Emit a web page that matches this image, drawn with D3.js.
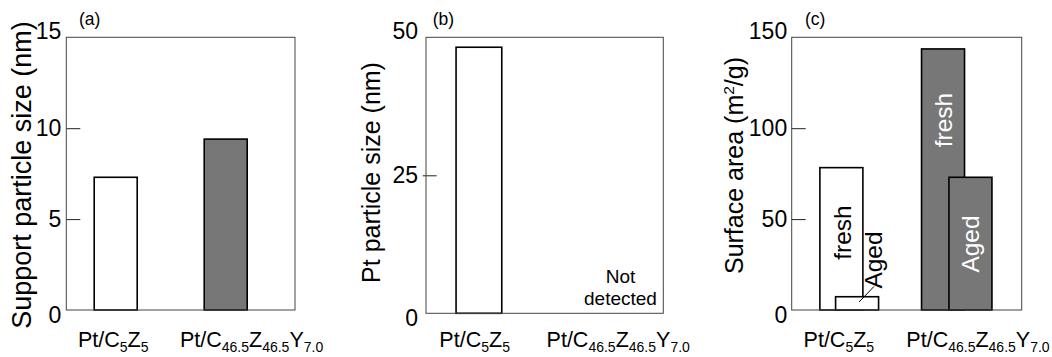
<!DOCTYPE html>
<html><head><meta charset="utf-8">
<script src="https://cdn.jsdelivr.net/npm/d3@7"></script>
<style>body{margin:0;background:#fff;} svg{display:block;}</style>
</head><body>
<script>
// ---------- data ----------
const categories = ["Pt/C5Z5", "Pt/C46.5Z46.5Y7.0"];
const categoryLabelParts = [
  [["Pt/C", 0], ["5", 1], ["Z", 0], ["5", 1]],
  [["Pt/C", 0], ["46.5", 1], ["Z", 0], ["46.5", 1], ["Y", 0], ["7.0", 1]]
];
const supportParticleSize = [7.3, 9.4];          // nm, panel (a)
const ptParticleSize = [48.2, null];              // nm, panel (b); null = not detected
const surfaceFresh = [78.3, 143.6];               // m2/g, panel (c)
const surfaceAged = [7.3, 73.0];                  // m2/g, panel (c)
const yTicksA = [0, 5, 10, 15];
const yTicksB = [0, 25, 50];
const yTicksC = [0, 50, 100, 150];
const panelLetters = ["(a)", "(b)", "(c)"];
const yTitles = ["Support particle size (nm)", "Pt particle size (nm)", "Surface area (m2/g)"];

// ---------- style ----------
const FONT = "'Liberation Sans', Arial, Helvetica, sans-serif";
const fills = ["#ffffff", "#777777"];
const svg = d3.select("body").append("svg").attr("width", 1052).attr("height", 357)
  .style("font-family", FONT);

function makePanel(cfg) {
  const [x0, y0, x1, y1] = cfg.box;
  const w = x1 - x0;
  const g = svg.append("g");
  const y = d3.scaleLinear().domain([0, d3.max(cfg.ticks)]).range([y1, y0]);
  const xBar = d3.scalePoint().domain(categories).range([x0 + cfg.barFrac[0] * w, x0 + cfg.barFrac[1] * w]);
  const xLab = d3.scalePoint().domain(categories).range([x0 + 0.205 * w, x0 + 0.81 * w]);

  // inner ticks
  const inner = cfg.ticks.slice(1, -1);
  const ax = g.append("g").attr("transform", `translate(${x0 + cfg.tickShift},0)`)
    .call(d3.axisLeft(y).tickValues(inner).tickSize(-14).tickFormat(""));
  ax.select(".domain").remove();
  ax.selectAll("line").attr("stroke", "#222").attr("stroke-width", 1);

  // tick labels
  const maxV = d3.max(cfg.ticks);
  g.selectAll(".tl").data(cfg.ticks).join("text")
    .attr("x", x0 - cfg.labelGap)
    .attr("y", d => y(d) + (d === 0 ? 5 : d === maxV ? -6 : 0))
    .attr("text-anchor", "end").attr("dominant-baseline", "central")
    .attr("font-size", 23).attr("fill", "#000").text(d => d);

  // bars
  cfg.drawBars(g, xBar, y, y1);

  // frame
  g.append("rect").attr("x", x0).attr("y", y0).attr("width", w).attr("height", y1 - y0)
    .attr("fill", "none").attr("stroke", "#444").attr("stroke-width", 1);

  // x labels
  categories.forEach((c, i) => {
    const t = g.append("text").attr("x", xLab(c)).attr("y", 347)
      .attr("text-anchor", "middle").attr("font-size", 21.5).attr("fill", "#000");
    let shifted = false;
    categoryLabelParts[i].forEach(([s, sub]) => {
      const ts = t.append("tspan").text(s);
      if (sub && !shifted) { ts.attr("font-size", 14).attr("dy", 5); shifted = true; }
      else if (sub) { ts.attr("font-size", 14); }
      else if (!sub && shifted) { ts.attr("dy", -5); shifted = false; }
    });
  });

  // panel letter
  g.append("text").attr("x", cfg.letterX).attr("y", 25).attr("font-size", 17.5)
    .attr("fill", "#000").text(cfg.letter);

  // y title
  const tt = g.append("text")
    .attr("transform", `translate(${cfg.titleX},${cfg.titleY}) rotate(-90)`)
    .attr("text-anchor", "middle").attr("font-size", cfg.titleSize).attr("fill", "#000");
  if (cfg.title.includes("m2")) {
    const [pre, post] = cfg.title.split("m2");
    tt.append("tspan").text(pre + "m");
    tt.append("tspan").attr("font-size", cfg.titleSize * 0.62).attr("dy", -9).text("2");
    tt.append("tspan").attr("dy", 9).text(post);
  } else tt.text(cfg.title);
  return { y, xBar };
}

// ----- panel (a) -----
makePanel({
  box: [66.3, 37.3, 295, 310], ticks: yTicksA, barFrac: [0.216, 0.697],
  tickShift: 0, labelGap: 5, letter: panelLetters[0], letterX: 79,
  title: yTitles[0], titleX: 30.5, titleY: 175, titleSize: 27,
  drawBars(g, x, y, yb) {
    const bw = 43;
    g.selectAll(".bar").data(supportParticleSize).join("rect")
      .attr("x", (d, i) => x(categories[i]) - bw / 2).attr("width", bw)
      .attr("y", d => y(d)).attr("height", d => yb - y(d))
      .attr("fill", (d, i) => fills[i]).attr("stroke", "#000").attr("stroke-width", 1.6);
  }
});

// ----- panel (b) -----
makePanel({
  box: [426, 37.3, 663.3, 313.3], ticks: yTicksB, barFrac: [0.223, 0.7],
  tickShift: -3.3, labelGap: 8, letter: panelLetters[1], letterX: 432.7,
  title: yTitles[1], titleX: 380, titleY: 172.5, titleSize: 25,
  drawBars(g, x, y, yb) {
    const bw = 45.7;
    g.selectAll(".bar").data(ptParticleSize.filter(d => d != null)).join("rect")
      .attr("x", (d, i) => x(categories[i]) - bw / 2).attr("width", bw)
      .attr("y", d => y(d)).attr("height", d => yb - y(d))
      .attr("fill", (d, i) => fills[i]).attr("stroke", "#000").attr("stroke-width", 1.6);
    const nd = g.append("text").attr("text-anchor", "middle").attr("font-size", 19).attr("fill", "#000");
    nd.append("tspan").attr("x", 620.5).attr("y", 283).text("Not");
    nd.append("tspan").attr("x", 620.5).attr("y", 305).text("detected");
  }
});

// ----- panel (c) -----
makePanel({
  box: [791.7, 37.3, 1021.7, 310], ticks: yTicksC, barFrac: [0.216, 0.658],
  tickShift: 0, labelGap: 4.5, letter: panelLetters[2], letterX: 805,
  title: yTitles[2], titleX: 743, titleY: 165.5, titleSize: 25,
  drawBars(g, x, y, yb) {
    const bw = 43;
    const agedOffset = [15.7, 27.4];
    const rows = categories.map((c, i) => ({ c, i, fresh: surfaceFresh[i], aged: surfaceAged[i] }));
    // fresh bars
    g.selectAll(".fb").data(rows).join("rect")
      .attr("x", d => x(d.c) - bw / 2).attr("width", bw)
      .attr("y", d => y(d.fresh)).attr("height", d => yb - y(d.fresh))
      .attr("fill", d => fills[d.i]).attr("stroke", "#000").attr("stroke-width", 1.6);
    // aged bars
    g.selectAll(".ab").data(rows).join("rect")
      .attr("x", d => x(d.c) + agedOffset[d.i] - bw / 2).attr("width", bw)
      .attr("y", d => y(d.aged)).attr("height", d => yb - y(d.aged))
      .attr("fill", d => fills[d.i]).attr("stroke", "#000").attr("stroke-width", 1.6);
    // in-bar labels
    const lab = (tx, ty, s, col) => g.append("text")
      .attr("transform", `translate(${tx},${ty}) rotate(-90)`)
      .attr("text-anchor", "middle").attr("font-size", 24.5).attr("fill", col).text(s);
    const c0 = x(categories[0]), c1 = x(categories[1]);
    lab(c0 + 10, y(42.6), "fresh", "#000");
    lab(c0 + agedOffset[0] + 25, y(27.5), "Aged", "#000");
    g.append("line").attr("x1", c0 + agedOffset[0] + 2).attr("y1", y(4.4))
      .attr("x2", c0 + agedOffset[0] + 17).attr("y2", y(13))
      .attr("stroke", "#000").attr("stroke-width", 1);
    lab(c1 + 9, y(104.5), "fresh", "#fff");
    lab(c1 + agedOffset[1] + 9, y(36.3), "Aged", "#fff");
  }
});
</script>
</body></html>
